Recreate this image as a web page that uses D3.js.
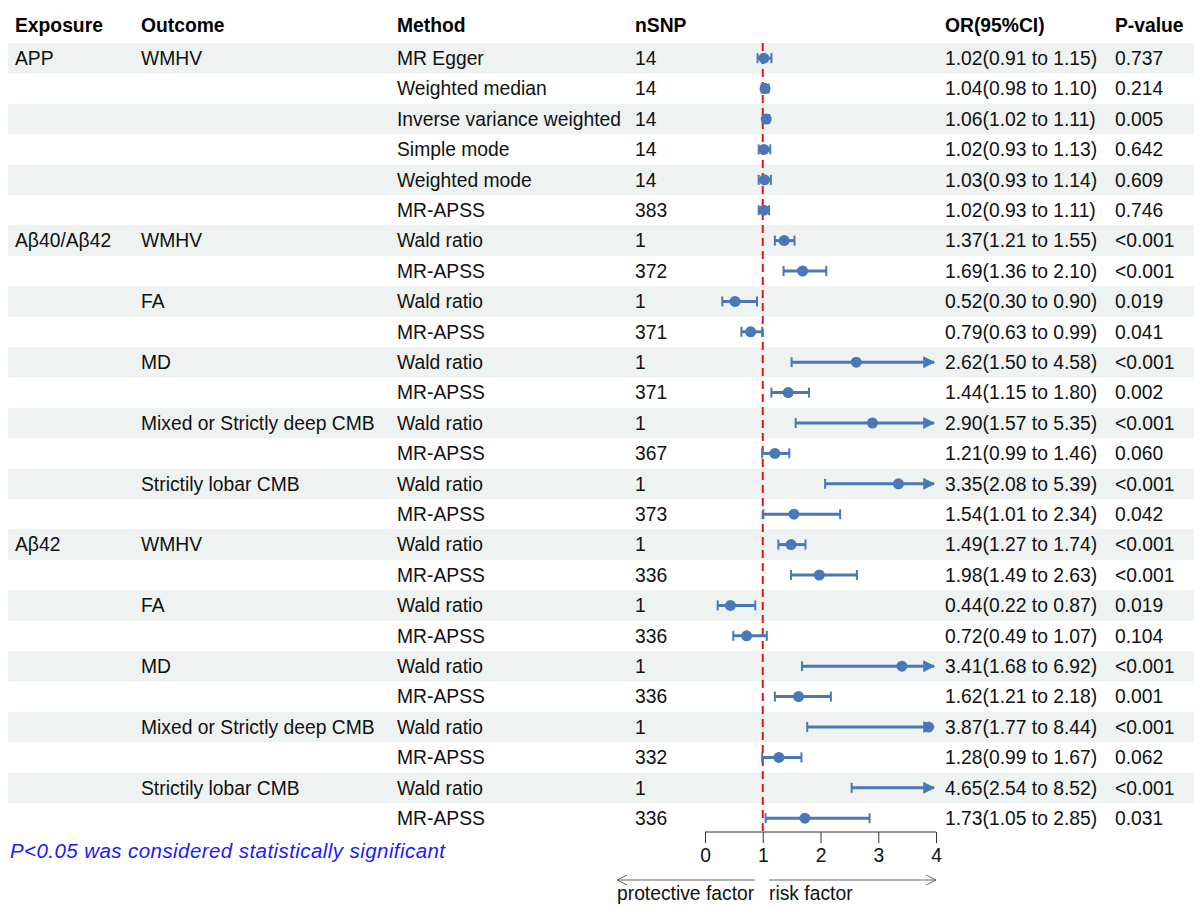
<!DOCTYPE html>
<html>
<head>
<meta charset="utf-8">
<script src="https://cdn.jsdelivr.net/npm/d3@7"></script>
<style>
  body { margin: 0; background: #fff; }
  text { font-family: "Liberation Sans", Arial, sans-serif; }
</style>
</head>
<body>
<div class="chart"></div>
<script>
let exposures = ["APP", "", "", "", "", "", "Aβ40/Aβ42", "", "", "", "", "", "", "", "", "", "Aβ42", "", "", "", "", "", "", "", "", ""];
let outcomes = ["WMHV", "", "", "", "", "", "WMHV", "", "FA", "", "MD", "", "Mixed or Strictly deep CMB", "", "Strictily lobar CMB", "",
  "WMHV", "", "FA", "", "MD", "", "Mixed or Strictly deep CMB", "", "Strictily lobar CMB", ""];
let methods = ["MR Egger", "Weighted median", "Inverse variance weighted", "Simple mode", "Weighted mode", "MR-APSS",
  "Wald ratio", "MR-APSS", "Wald ratio", "MR-APSS", "Wald ratio", "MR-APSS", "Wald ratio", "MR-APSS", "Wald ratio", "MR-APSS",
  "Wald ratio", "MR-APSS", "Wald ratio", "MR-APSS", "Wald ratio", "MR-APSS", "Wald ratio", "MR-APSS", "Wald ratio", "MR-APSS"];
let nsnp = [14, 14, 14, 14, 14, 383, 1, 372, 1, 371, 1, 371, 1, 367, 1, 373, 1, 336, 1, 336, 1, 336, 1, 332, 1, 336];
let orValues = [1.02, 1.04, 1.06, 1.02, 1.03, 1.02, 1.37, 1.69, 0.52, 0.79, 2.62, 1.44, 2.90, 1.21, 3.35, 1.54,
  1.49, 1.98, 0.44, 0.72, 3.41, 1.62, 3.87, 1.28, 4.65, 1.73];
let lowerCI = [0.91, 0.98, 1.02, 0.93, 0.93, 0.93, 1.21, 1.36, 0.30, 0.63, 1.50, 1.15, 1.57, 0.99, 2.08, 1.01,
  1.27, 1.49, 0.22, 0.49, 1.68, 1.21, 1.77, 0.99, 2.54, 1.05];
let upperCI = [1.15, 1.10, 1.11, 1.13, 1.14, 1.11, 1.55, 2.10, 0.90, 0.99, 4.58, 1.80, 5.35, 1.46, 5.39, 2.34,
  1.74, 2.63, 0.87, 1.07, 6.92, 2.18, 8.44, 1.67, 8.52, 2.85];
let pValues = ["0.737", "0.214", "0.005", "0.642", "0.609", "0.746", "<0.001", "<0.001", "0.019", "0.041", "<0.001", "0.002",
  "<0.001", "0.060", "<0.001", "0.042", "<0.001", "<0.001", "0.019", "0.104", "<0.001", "0.001", "<0.001", "0.062", "<0.001", "0.031"];
let xTicks = [0, 1, 2, 3, 4];

let svgWidth = 1194;
let svgHeight = 906;
let blue = "#4a78b6";
let fontSize = 19.3;

let rows = methods.map((m, i) => ({
  exposure: exposures[i],
  outcome: outcomes[i],
  method: m,
  nsnp: nsnp[i],
  or: orValues[i],
  lo: lowerCI[i],
  hi: upperCI[i],
  p: pValues[i],
  i: i
}));

let svg = d3.select(".chart")
  .append("svg")
  .attr("width", svgWidth)
  .attr("height", svgHeight);

let defs = svg.append("defs");
defs.append("marker")
  .attr("id", "arrowBlue")
  .attr("viewBox", "0 0 10 10")
  .attr("refX", 9)
  .attr("refY", 5)
  .attr("markerWidth", 4)
  .attr("markerHeight", 4)
  .attr("markerUnits", "strokeWidth")
  .attr("orient", "auto")
  .append("path")
  .attr("d", "M0,0 L10,5 L0,10 z")
  .attr("fill", blue);

let yScale = d3.scaleBand()
  .domain(d3.range(rows.length))
  .range([43, 43 + rows.length * 30.4]);

let xScale = d3.scaleLinear()
  .domain([0, 4])
  .range([705, 936]);

// shaded bands
svg.selectAll(".band")
  .data(rows.filter(d => d.i % 2 === 0))
  .enter()
  .append("rect")
  .attr("x", 8)
  .attr("y", d => yScale(d.i))
  .attr("width", svgWidth - 8)
  .attr("height", yScale.bandwidth())
  .attr("fill", "#eef2f1");

// header
let cols = [
  { x: 15, label: "Exposure", key: "exposure" },
  { x: 141, label: "Outcome", key: "outcome" },
  { x: 397, label: "Method", key: "method" },
  { x: 635, label: "nSNP", key: "nsnp" },
  { x: 945, label: "OR(95%CI)", key: "ci" },
  { x: 1115, label: "P-value", key: "p" }
];

svg.selectAll(".header")
  .data(cols)
  .enter()
  .append("text")
  .attr("x", d => d.x)
  .attr("y", 25)
  .attr("dy", "0.35em")
  .attr("font-size", fontSize)
  .attr("font-weight", "bold")
  .text(d => d.label);

// table text
cols.forEach(function(c) {
  svg.selectAll(".col-" + c.key)
    .data(rows)
    .enter()
    .append("text")
    .attr("x", c.x)
    .attr("y", d => yScale(d.i) + yScale.bandwidth() / 2)
    .attr("dy", "0.35em")
    .attr("font-size", fontSize)
    .attr("fill", "#111")
    .text(function(d) {
      if (c.key === "ci") {
        return `${d.or.toFixed(2)}(${d.lo.toFixed(2)} to ${d.hi.toFixed(2)})`;
      }
      return d[c.key];
    });
});

// reference line at OR = 1
svg.append("line")
  .attr("x1", xScale(1))
  .attr("x2", xScale(1))
  .attr("y1", 43)
  .attr("y2", 833)
  .attr("stroke", "#ee1111")
  .attr("stroke-width", 2)
  .attr("stroke-dasharray", "8,5");

// error bars
let maxX = xTicks[xTicks.length - 1];
let bars = svg.selectAll(".ci")
  .data(rows)
  .enter()
  .append("g");

bars.append("line")
  .attr("x1", d => xScale(d.lo))
  .attr("x2", d => xScale(Math.min(d.hi, maxX)) - (d.hi > maxX ? 2 : 0))
  .attr("y1", d => yScale(d.i) + yScale.bandwidth() / 2)
  .attr("y2", d => yScale(d.i) + yScale.bandwidth() / 2)
  .attr("stroke", blue)
  .attr("stroke-width", 3)
  .attr("marker-end", d => d.hi > maxX ? "url(#arrowBlue)" : null);

bars.append("line")
  .attr("x1", d => xScale(d.lo))
  .attr("x2", d => xScale(d.lo))
  .attr("y1", d => yScale(d.i) + yScale.bandwidth() / 2 - 5)
  .attr("y2", d => yScale(d.i) + yScale.bandwidth() / 2 + 5)
  .attr("stroke", blue)
  .attr("stroke-width", 2);

bars.filter(d => d.hi <= maxX)
  .append("line")
  .attr("x1", d => xScale(d.hi))
  .attr("x2", d => xScale(d.hi))
  .attr("y1", d => yScale(d.i) + yScale.bandwidth() / 2 - 5)
  .attr("y2", d => yScale(d.i) + yScale.bandwidth() / 2 + 5)
  .attr("stroke", blue)
  .attr("stroke-width", 2);

bars.filter(d => d.or <= maxX)
  .append("circle")
  .attr("cx", d => xScale(d.or))
  .attr("cy", d => yScale(d.i) + yScale.bandwidth() / 2)
  .attr("r", 5.5)
  .attr("fill", blue);

// x axis
let bottomAxis = d3.axisBottom(xScale)
  .tickValues(xTicks)
  .tickFormat(d3.format("d"))
  .tickSize(-11)
  .tickPadding(6);

let xAxis = svg.append("g")
  .attr("transform", "translate(0, 832)")
  .call(bottomAxis);

xAxis.selectAll(".tick line").attr("y1", 0).attr("y2", 11).attr("stroke", "#333");
xAxis.select(".domain").attr("d", `M${xScale(0)},0H${xScale(4)}`).attr("stroke", "#333");
xAxis.selectAll(".tick text")
  .attr("y", 16)
  .attr("font-size", fontSize)
  .attr("font-family", "Liberation Sans, Arial, sans-serif")
  .attr("fill", "#111");

// direction arrows
defs.append("marker")
  .attr("id", "chevron")
  .attr("viewBox", "0 0 10 10")
  .attr("refX", 10)
  .attr("refY", 5)
  .attr("markerWidth", 10)
  .attr("markerHeight", 10)
  .attr("markerUnits", "userSpaceOnUse")
  .attr("orient", "auto")
  .append("path")
  .attr("d", "M0,0 L10,5 L0,10")
  .attr("fill", "none")
  .attr("stroke", "#666")
  .attr("stroke-width", 1);

svg.append("line")
  .attr("x1", 755).attr("x2", 617)
  .attr("y1", 880).attr("y2", 880)
  .attr("stroke", "#666")
  .attr("marker-end", "url(#chevron)");

svg.append("line")
  .attr("x1", 769).attr("x2", 936)
  .attr("y1", 880).attr("y2", 880)
  .attr("stroke", "#666")
  .attr("marker-end", "url(#chevron)");

svg.append("text")
  .attr("x", 617)
  .attr("y", 900)
  .attr("font-size", fontSize)
  .attr("fill", "#111")
  .text("protective factor");

svg.append("text")
  .attr("x", 769)
  .attr("y", 900)
  .attr("font-size", fontSize)
  .attr("fill", "#111")
  .text("risk factor");

// footnote
svg.append("text")
  .attr("x", 10)
  .attr("y", 851)
  .attr("dy", "0.35em")
  .attr("font-size", 20.5)
  .attr("font-style", "italic")
  .attr("fill", "#1a1aff")
  .attr("textLength", 435)
  .attr("lengthAdjust", "spacing")
  .text("P<0.05 was considered statistically significant");
</script>
</body>
</html>
